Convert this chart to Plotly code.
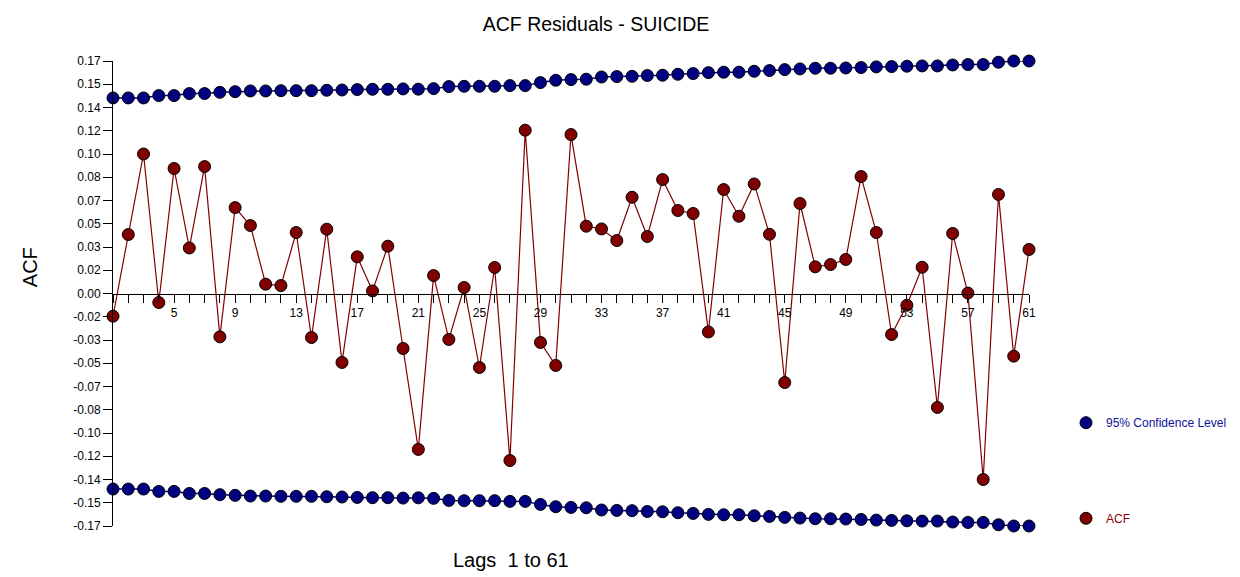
import plotly.graph_objects as go

lags = list(range(1, 62))

acf = [-0.0166, 0.0431, 0.1020, -0.0066, 0.0914, 0.0333, 0.0928, -0.0317, 0.0628, 0.0497,
       0.0068, 0.0058, 0.0446, -0.0322, 0.0470, -0.0504, 0.0268, 0.0019, 0.0346, -0.0402,
       -0.1140, 0.0131, -0.0336, 0.0044, -0.0541, 0.0190, -0.1221, 0.1194, -0.0358, -0.0526,
       0.1162, 0.0492, 0.0472, 0.0387, 0.0704, 0.0417, 0.0833, 0.0607, 0.0585, -0.0281,
       0.0760, 0.0565, 0.0801, 0.0433, -0.0651, 0.0658, 0.0195, 0.0212, 0.0249, 0.0855,
       0.0446, -0.0300, -0.0086, 0.0192, -0.0833, 0.0439, 0.0003, -0.1360, 0.0724, -0.0458,
       0.0322]

conf_upper = [0.1430, 0.1430, 0.1430, 0.1447, 0.1447, 0.1462, 0.1462, 0.1471, 0.1476, 0.1481,
              0.1481, 0.1483, 0.1483, 0.1483, 0.1486, 0.1488, 0.1491, 0.1493, 0.1493, 0.1496,
              0.1494, 0.1498, 0.1513, 0.1515, 0.1515, 0.1515, 0.1520, 0.1520, 0.1542, 0.1559,
              0.1564, 0.1567, 0.1583, 0.1586, 0.1588, 0.1594, 0.1596, 0.1603, 0.1608, 0.1615,
              0.1618, 0.1618, 0.1625, 0.1630, 0.1637, 0.1642, 0.1647, 0.1647, 0.1649, 0.1652,
              0.1657, 0.1659, 0.1662, 0.1664, 0.1664, 0.1671, 0.1674, 0.1674, 0.1691, 0.1700,
              0.1700]
conf_lower = [-v for v in conf_upper]

ytick_vals = [-0.170, -0.153, -0.136, -0.119, -0.102, -0.085, -0.068, -0.051, -0.034, -0.017,
              0.0, 0.017, 0.034, 0.051, 0.068, 0.085, 0.102, 0.119, 0.136, 0.153, 0.170]
ytick_text = ["-0.17", "-0.15", "-0.14", "-0.12", "-0.10", "-0.08", "-0.07", "-0.05", "-0.03", "-0.02",
              "0.00", "0.02", "0.03", "0.05", "0.07", "0.08", "0.10", "0.12", "0.14", "0.15", "0.17"]
xtick_vals = list(range(5, 62, 4))
xtick_text = [str(v) for v in xtick_vals]

NAVY = "#000080"
MAROON = "#800000"
FONT = "Liberation Sans, Arial, sans-serif"
MK = dict(size=12, line=dict(color="black", width=1))

fig = go.Figure()
fig.add_trace(go.Scatter(
    x=lags, y=conf_upper, mode="lines+markers", name="95% Confidence Level",
    legendgroup="conf", showlegend=False,
    line=dict(color=NAVY, width=1.5), marker=dict(color=NAVY, **MK), cliponaxis=False))
fig.add_trace(go.Scatter(
    x=lags, y=conf_lower, mode="lines+markers", name="95% Confidence Level",
    legendgroup="conf", showlegend=False,
    line=dict(color=NAVY, width=1.5), marker=dict(color=NAVY, **MK), cliponaxis=False))
fig.add_trace(go.Scatter(
    x=lags, y=acf, mode="lines+markers", name="ACF", legendgroup="acf", showlegend=False,
    line=dict(color=MAROON, width=1.2), marker=dict(color=MAROON, **MK), cliponaxis=False))
# legend entries (markers only, as in the reference legend)
fig.add_trace(go.Scatter(
    x=[None], y=[None], mode="markers", name="95% Confidence Level", legendgroup="conf",
    legend="legend", marker=dict(color=NAVY, **MK)))
fig.add_trace(go.Scatter(
    x=[None], y=[None], mode="markers", name="ACF", legendgroup="acf",
    legend="legend2", marker=dict(color=MAROON, **MK)))

# page body has an 8px margin; lay out in page pixels and compensate
OFF = 8
W, H = 1240 - OFF, 577 - OFF
PL, PR, PT, PB = 113, 1029, 61, 526   # plot area in page pixels
L, R, T, B = PL - OFF, W - (PR - OFF), PT - OFF, H - (PB - OFF)
pw, ph = W - L - R, H - T - B

def px_x(p):
    return (p - OFF - L) / pw

def px_y(p):
    return (H - B - (p - OFF)) / ph

fig.update_layout(
    width=W, height=H,
    margin=dict(l=L, r=R, t=T, b=B, pad=0, autoexpand=False),
    paper_bgcolor="white", plot_bgcolor="white",
    font=dict(family=FONT, size=12, color="black"),
    title=dict(text="ACF Residuals - SUICIDE", x=(596 - OFF) / W, xanchor="center",
               y=1 - (24 - OFF) / H, yanchor="middle", font=dict(size=19.5, color="black")),
    xaxis=dict(range=[1, 61], anchor="free", position=0.5, showgrid=False, zeroline=False,
               showline=True, linecolor="black", linewidth=1,
               ticks="outside", ticklen=8, tickcolor="black", tickwidth=1,
               tickvals=xtick_vals, ticktext=xtick_text, tickfont=dict(size=12),
               minor=dict(dtick=1, tick0=1, ticks="outside", ticklen=8, tickcolor="black",
                          tickwidth=1, showgrid=False)),
    yaxis=dict(range=[-0.17, 0.17], showgrid=False, zeroline=False,
               showline=True, linecolor="black", linewidth=1,
               ticks="outside", ticklen=9, tickcolor="black", tickwidth=1,
               tickvals=ytick_vals, ticktext=ytick_text, tickfont=dict(size=12)),
    legend=dict(x=px_x(1066), y=px_y(422.7), xanchor="left", yanchor="middle",
                font=dict(size=12, color="#101098"), bgcolor="rgba(0,0,0,0)",
                borderwidth=0, itemwidth=30),
    legend2=dict(x=px_x(1066), y=px_y(518.3), xanchor="left", yanchor="middle",
                 font=dict(size=12, color="#8b0000"), bgcolor="rgba(0,0,0,0)",
                 borderwidth=0, itemwidth=30),
    annotations=[
        dict(text="ACF", xref="paper", yref="paper", x=px_x(30.2), y=px_y(267),
             showarrow=False, textangle=-90, font=dict(size=20, color="black"),
             xanchor="center", yanchor="middle"),
        dict(text="Lags&nbsp;&nbsp;1 to 61", xref="paper", yref="paper", x=px_x(510.5), y=px_y(560),
             showarrow=False, font=dict(size=20, color="black"),
             xanchor="center", yanchor="middle"),
    ],
)

fig.write_html("out.html")
